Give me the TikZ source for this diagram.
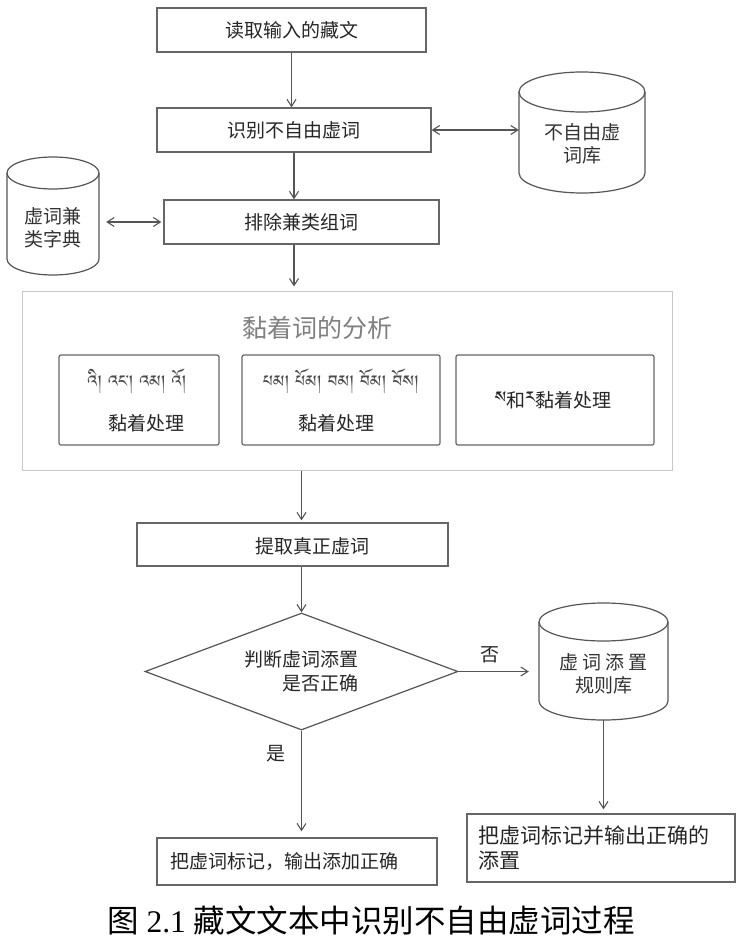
\documentclass[tikz,border=0pt]{standalone}
\usepackage{fontspec}
\setmainfont{Liberation Serif}
\newfontfamily\cjk{Noto Sans CJK SC}
\IfFontExistsTF{Noto Sans Tibetan}{\newfontfamily\tib[Script=Tibetan]{Noto Sans Tibetan}}{%
 \IfFontExistsTF{Jomolhari}{\newfontfamily\tib[Script=Tibetan]{Jomolhari}}{\let\tib\cjk}}
\usetikzlibrary{arrows.meta,shapes.geometric}
\definecolor{ln}{HTML}{555555}
\definecolor{bx}{HTML}{666666}
\tikzset{
  cn/.style={line width=1.1pt, draw=ln},
  arr/.style={cn, -{Straight Barb[length=7pt,width=9pt]}},
  darr/.style={cn, {Straight Barb[length=7pt,width=9pt]}-{Straight Barb[length=7pt,width=9pt]}},
  procbox/.style={draw=bx, line width=1.3pt, inner sep=0pt, font=\cjk\fontsize{19}{23}\selectfont, text=black!85},
  subbox/.style={draw=bx, line width=1.2pt, rounded corners=2pt, inner sep=0pt},
  cylline/.style={draw=ln, line width=1.2pt},
  cyltext/.style={align=center, inner sep=0pt, font=\cjk\fontsize{19}{23}\selectfont, text=black!80},
  lbl/.style={inner sep=0pt, font=\cjk\fontsize{19}{23}\selectfont, text=black!85},
  tibtext/.style={inner sep=0pt, font=\tib\fontsize{21}{24}\selectfont, text=black!70},
}
\newcommand\mycyl[8]{%
  \pgfmathsetmacro\cyL{#2-#4/2}\pgfmathsetmacro\cyR{#2+#4/2}%
  \pgfmathsetmacro\cyT{#3-#5/2+#6}\pgfmathsetmacro\cyB{#3+#5/2-#6}%
  \pgfmathsetmacro\cyY{#3+#8}%
  \node[inner sep=0pt, minimum width=#4pt, minimum height=#5pt] (#1) at (#2,#3) {};
  \draw[cylline] (\cyL,\cyT) -- (\cyL,\cyB) arc[start angle=180,end angle=360,x radius=#4pt/2,y radius=#6pt] -- (\cyR,\cyT);
  \draw[cylline] (#2,\cyT) ellipse[x radius=#4pt/2, y radius=#6pt];
  \node[cyltext] (#1-t) at (#2,\cyY) {#7};
}
\begin{document}
\begin{tikzpicture}[x=1pt,y=-1pt]
\useasboundingbox[fill=white] (0,0) rectangle (742,947);

% top chain
\node[procbox, minimum width=269pt, minimum height=44pt] (b1) at (291.5,30) {读取输入的藏文};
\node[procbox, minimum width=274pt, minimum height=44pt] (b2) at (294,130) {识别不自由虚词};
\node[procbox, minimum width=275pt, minimum height=44pt] (b3) at (301.5,222) {排除兼类组词};

\mycyl{cR}{582}{132.5}{126}{121}{20}{不自由虚\\词库}{11}
\mycyl{cL}{53}{216}{92}{118}{16}{虚词兼\\类字典}{11.5}

% big analysis box
\node[draw=black!22, line width=1pt, minimum width=650pt, minimum height=179pt, inner sep=0pt] (big) at (347,380.5) {};
\node[inner sep=0pt, font=\cjk\fontsize{25}{28}\selectfont, text=black!50] (title) at (317,328) {黏着词的分析};

\node[subbox, minimum width=160pt, minimum height=90pt] (sa) at (139,400) {};
\node[subbox, minimum width=198pt, minimum height=90pt] (sb) at (341,400) {};
\node[subbox, minimum width=198pt, minimum height=90pt] (sc) at (555,400) {};
\node[tibtext] (sa1) at (137,381) {འི། འང་། འམ། འོ།};
\node[lbl] (sa2) at (146,423) {黏着处理};
\node[tibtext] (sb1) at (341,381) {པམ། པོམ། བམ། བོམ། བོས།};
\node[lbl] (sb2) at (336,423) {黏着处理};
\node[lbl] (sc1) at (553,400) {{\tib\fontsize{21}{24}\selectfont ས}和{\tib\fontsize{21}{24}\selectfont ར}黏着处理};

% lower part
\node[procbox, minimum width=311pt, minimum height=43pt] (ex) at (292.5,544.5) {};
\node[lbl] (ex-t) at (312,546) {提取真正虚词};
\node[diamond, draw=ln, line width=1.2pt, minimum width=313pt, minimum height=117pt, inner sep=0pt, shape aspect=2.67,
      align=right, font=\cjk\fontsize{19}{24}\selectfont, text=black!85] (d) at (301.5,671.5) {判断虚词添置\\是否正确};
\mycyl{cB}{603.5}{661.5}{129}{117}{19}{虚 词 添 置\\规则库}{12}

\node[procbox, minimum width=268pt, minimum height=68pt, align=left, text width=246pt, font=\cjk\fontsize{21}{25}\selectfont] (oR) at (601,848) {把虚词标记并输出正确的\\添置};
\node[procbox, minimum width=280pt, minimum height=47pt, align=left, text width=254pt] (oL) at (297,861.5) {把虚词标记，输出添加正确};

\node[lbl] (yes) at (276,754) {是};
\node[lbl] (no) at (490,655) {否};

\node[inner sep=0pt, font=\fontsize{31.5}{35}\selectfont] (cap) at (371,920) {{\cjk 图} 2.1 {\cjk 藏文文本中识别不自由虚词过程}};

% connectors
\draw[arr] (b1.south) -- (b1.south |- b2.north);
\draw[arr] (b2.south) -- (b2.south |- b3.north);
\draw[darr] (b2.east) -- (b2.east -| cR.west);
\draw[darr, shorten <=7pt, shorten >=2pt] (cL.east |- b3.west) -- (b3.west);
\draw[arr, shorten >=4pt] (b2.south |- b3.south) -- (b2.south |- big.north);
\draw[arr, shorten >=2pt] (d.north |- big.south) -- (d.north |- ex.north);
\draw[arr] (d.north |- ex.south) -- (d.north);
\draw[arr, shorten >=10pt] (d.east) -- (d.east -| cB.west);
\draw[arr, shorten >=4pt] (cB.south) -- (cB.south |- oR.north);
\draw[arr, shorten >=6pt] (d.south) -- (d.south |- oL.north);
\end{tikzpicture}
\end{document}
